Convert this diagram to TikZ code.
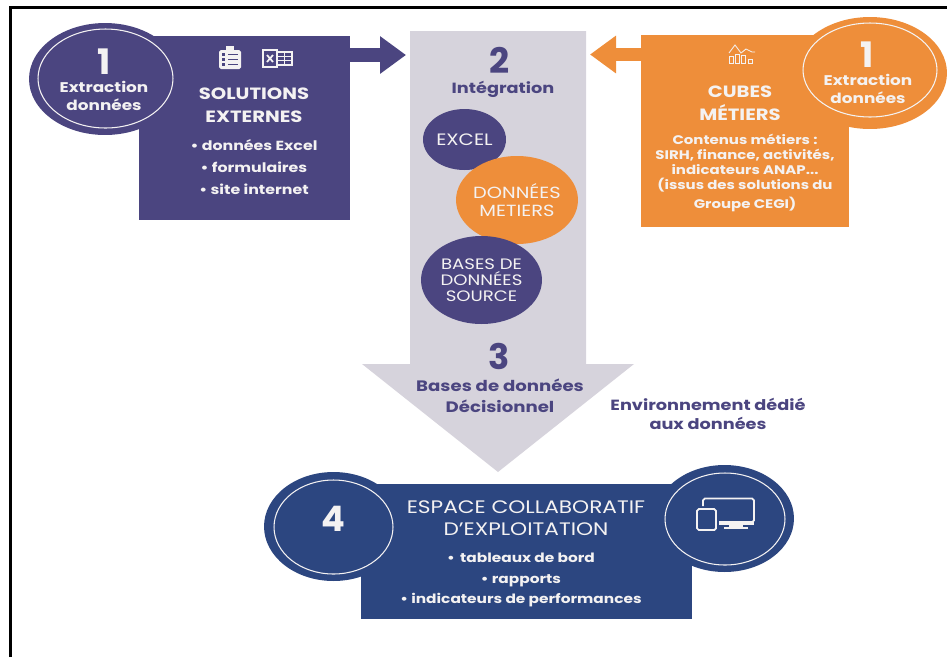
\documentclass[tikz,border=0pt]{standalone}
\usepackage{fontspec}
\setmainfont{Poppins}[FakeStretch=1.2]
\newfontfamily\numfont{Poppins}
\usetikzlibrary{arrows.meta,shapes.geometric}
\definecolor{violet}{HTML}{4B4580}
\definecolor{orangeb}{HTML}{EE8E3A}
\definecolor{navy}{HTML}{2C4680}
\definecolor{greyb}{HTML}{D6D3DC}
\definecolor{paper}{HTML}{F4F2F2}
\newcommand{\sizetext}[2]{\fontsize{#1}{#2}\selectfont}

\begin{document}
\begin{tikzpicture}[x=0.02cm,y=0.02cm]
\tikzstyle{every node}+=[inner sep=0pt,outer sep=0pt]
\tikzstyle{panel}=[rectangle,anchor=north west]
\tikzstyle{blob}=[ellipse,inner sep=-8pt,text=paper,align=center,font=\sizetext{9.4}{9.4}]
\tikzstyle{ringv}=[ellipse,draw=paper,line width=0.6pt,fill=none]
\tikzstyle{number}=[font=\numfont\bfseries\sizetext{20}{20}]
\tikzstyle{label}=[align=center,text=paper,font=\bfseries\sizetext{8}{10.2}]
\tikzstyle{title}=[align=center,text=paper,font=\bfseries\sizetext{9.3}{13}]
\tikzstyle{items}=[align=center,text=paper,font=\bfseries\sizetext{7.5}{12.5}]
\tikzstyle{note}=[align=center,text=violet,font=\bfseries\sizetext{8.4}{10.4}]
\tikzstyle{icon}=[paper,line width=0.7pt]
\useasboundingbox (0,0) rectangle (947,-657);
\draw [black,line width=1.4pt] (10.5,-657) -- (10.5,-7.5) -- (947,-7.5);
\fill [greyb] (410,-31) -- (586,-31) -- (586,-364) -- (634,-364) -- (498,-472) -- (362,-364) -- (410,-364) -- cycle;
\coordinate (intoL) at (406,-55);
\coordinate (intoR) at (590,-54.5);
\node (solutions) [panel,fill=violet,minimum width=4.22cm,minimum height=3.68cm] at (139,-36) {};
\draw [violet,line width=7.6pt,-{Triangle[length=0.52cm,width=0.72cm]}] (solutions.east |- intoL) -- (intoL);
\node (extractL) [blob,fill=violet,minimum width=3.04cm,minimum height=2.24cm] at (105,-79) {};
\node (ringL) [ringv,minimum width=2.7cm,minimum height=1.98cm] at (105.5,-78.5) {};
\node (cubes) [panel,fill=orangeb,minimum width=4.16cm,minimum height=3.84cm] at (641,-35) {};
\draw [orangeb,line width=7.6pt,-{Triangle[length=0.52cm,width=0.72cm]}] (cubes.west |- intoR) -- (intoR);
\node (extractR) [blob,fill=orangeb,minimum width=3.08cm,minimum height=2.24cm] at (870,-73) {};
\node (ringR) [ringv,minimum width=2.68cm,minimum height=1.88cm] at (870,-70) {};
\node (excel) [blob,fill=violet,minimum width=1.66cm,minimum height=1.22cm] at (464.5,-139.5) {EXCEL};
\node (metiers) [blob,fill=orangeb,font=\sizetext{9.2}{10.2},minimum width=2.44cm,minimum height=1.76cm] at (517,-200) {DONNÉES\\METIERS};
\node (sources) [blob,fill=violet,font=\sizetext{8.6}{9.1},minimum width=2.42cm,minimum height=1.76cm] at (481.5,-280) {BASES DE\\DONNÉES\\SOURCE};
\node (espace) [panel,fill=navy,minimum width=6.62cm,minimum height=2.7cm] at (361,-484) {};
\node (four) [blob,fill=navy,minimum width=2.78cm,minimum height=2.18cm] at (333.5,-526.5) {};
\node (ringF) [ringv,minimum width=2.38cm,minimum height=1.88cm] at (333.5,-527) {};
\node (screens) [blob,fill=navy,minimum width=2.78cm,minimum height=2.14cm] at (724.5,-518.5) {};
\node (ringS) [ringv,minimum width=2.4cm,minimum height=1.84cm] at (725,-519) {};
\node (numL) [number,text=paper] at (104,-62) {1};
\node (extractionL) [label] at (104,-96) {Extraction\\données};
\node (titleL) [title] at (254,-105) {SOLUTIONS\\EXTERNES};
\node (itemsL) [items] at (254,-167.5) {• données Excel\\• formulaires\\• site internet};
\node (numR) [number,text=paper] at (867,-55) {1};
\node (extractionR) [label] at (868,-89) {Extraction\\données};
\node (titleR) [title] at (740,-103) {CUBES\\MÉTIERS};
\node (itemsR) [align=center,text=paper,font=\bfseries\sizetext{7.1}{8.6}] at (745,-173) {Contenus métiers :\\SIRH, finance, activités,\\indicateurs ANAP...\\(issus des solutions du\\[2pt]Groupe CEGI)};
\node (numI) [number,text=violet] at (500,-60) {2};
\node (integration) [note] at (503,-89) {Intégration};
\node (numB) [number,text=violet] at (499,-356) {3};
\node (decision) [note,font=\bfseries\sizetext{8.6}{12}] at (500,-396) {Bases de données\\Décisionnel};
\node (milieu) [note] at (708,-414) {Environnement dédié\\aux données};
\node (numF) [number,text=paper] at (333,-519) {4};
\node (titleF) [align=center,text=paper,font=\sizetext{10.3}{12.6}] at (526,-518) {ESPACE COLLABORATIF\\D’EXPLOITATION};
\node (itemsF) [items,font=\bfseries\sizetext{7.3}{11.9}] at (521,-580) {•\, tableaux de bord\\• rapports\\• indicateurs de performances};
\fill [icon,rounded corners=1pt] (219,-50) rectangle (241,-69);
\fill [icon] (226,-46) rectangle (234,-51);
\foreach \y in {-54,-59,-64} {
\fill [violet] (222,\y+1.5) rectangle (225,\y-1.5);
\draw [violet,line width=0.5pt] (228,\y) -- (238,\y);
}
\draw [icon] (263,-50) rectangle (277,-67);
\draw [icon,line width=1pt] (267,-55) -- (273,-62) (273,-55) -- (267,-62);
\draw [icon] (277,-52) rectangle (292,-65);
\foreach \y in {-56,-60.5} {
\draw [icon,line width=0.4pt] (277,\y) -- (292,\y);
}
\draw [icon,line width=0.4pt] (284,-52) -- (284,-65);
\draw [icon,line width=0.5pt] (729,-63) rectangle (733,-56) (735,-63) rectangle (739,-54) (741,-63) rectangle (745,-55) (748,-63) rectangle (752,-59);
\draw [icon,line width=0.5pt] (729,-53) -- (735,-45) -- (741,-53) -- (746,-49) -- (752,-52) -- (755,-52);
\draw [icon,line width=1pt,rounded corners=1pt] (703,-506) -- (703,-498.5) -- (754,-498.5) -- (754,-522) -- (719,-522);
\fill [icon] (719,-522) rectangle (754,-525);
\fill [icon] (729,-525) rectangle (743,-527);
\fill [icon] (724,-527) rectangle (748,-529);
\draw [icon,line width=1pt,rounded corners=1pt] (697,-509) rectangle (716,-530);
\end{tikzpicture}
\end{document}
